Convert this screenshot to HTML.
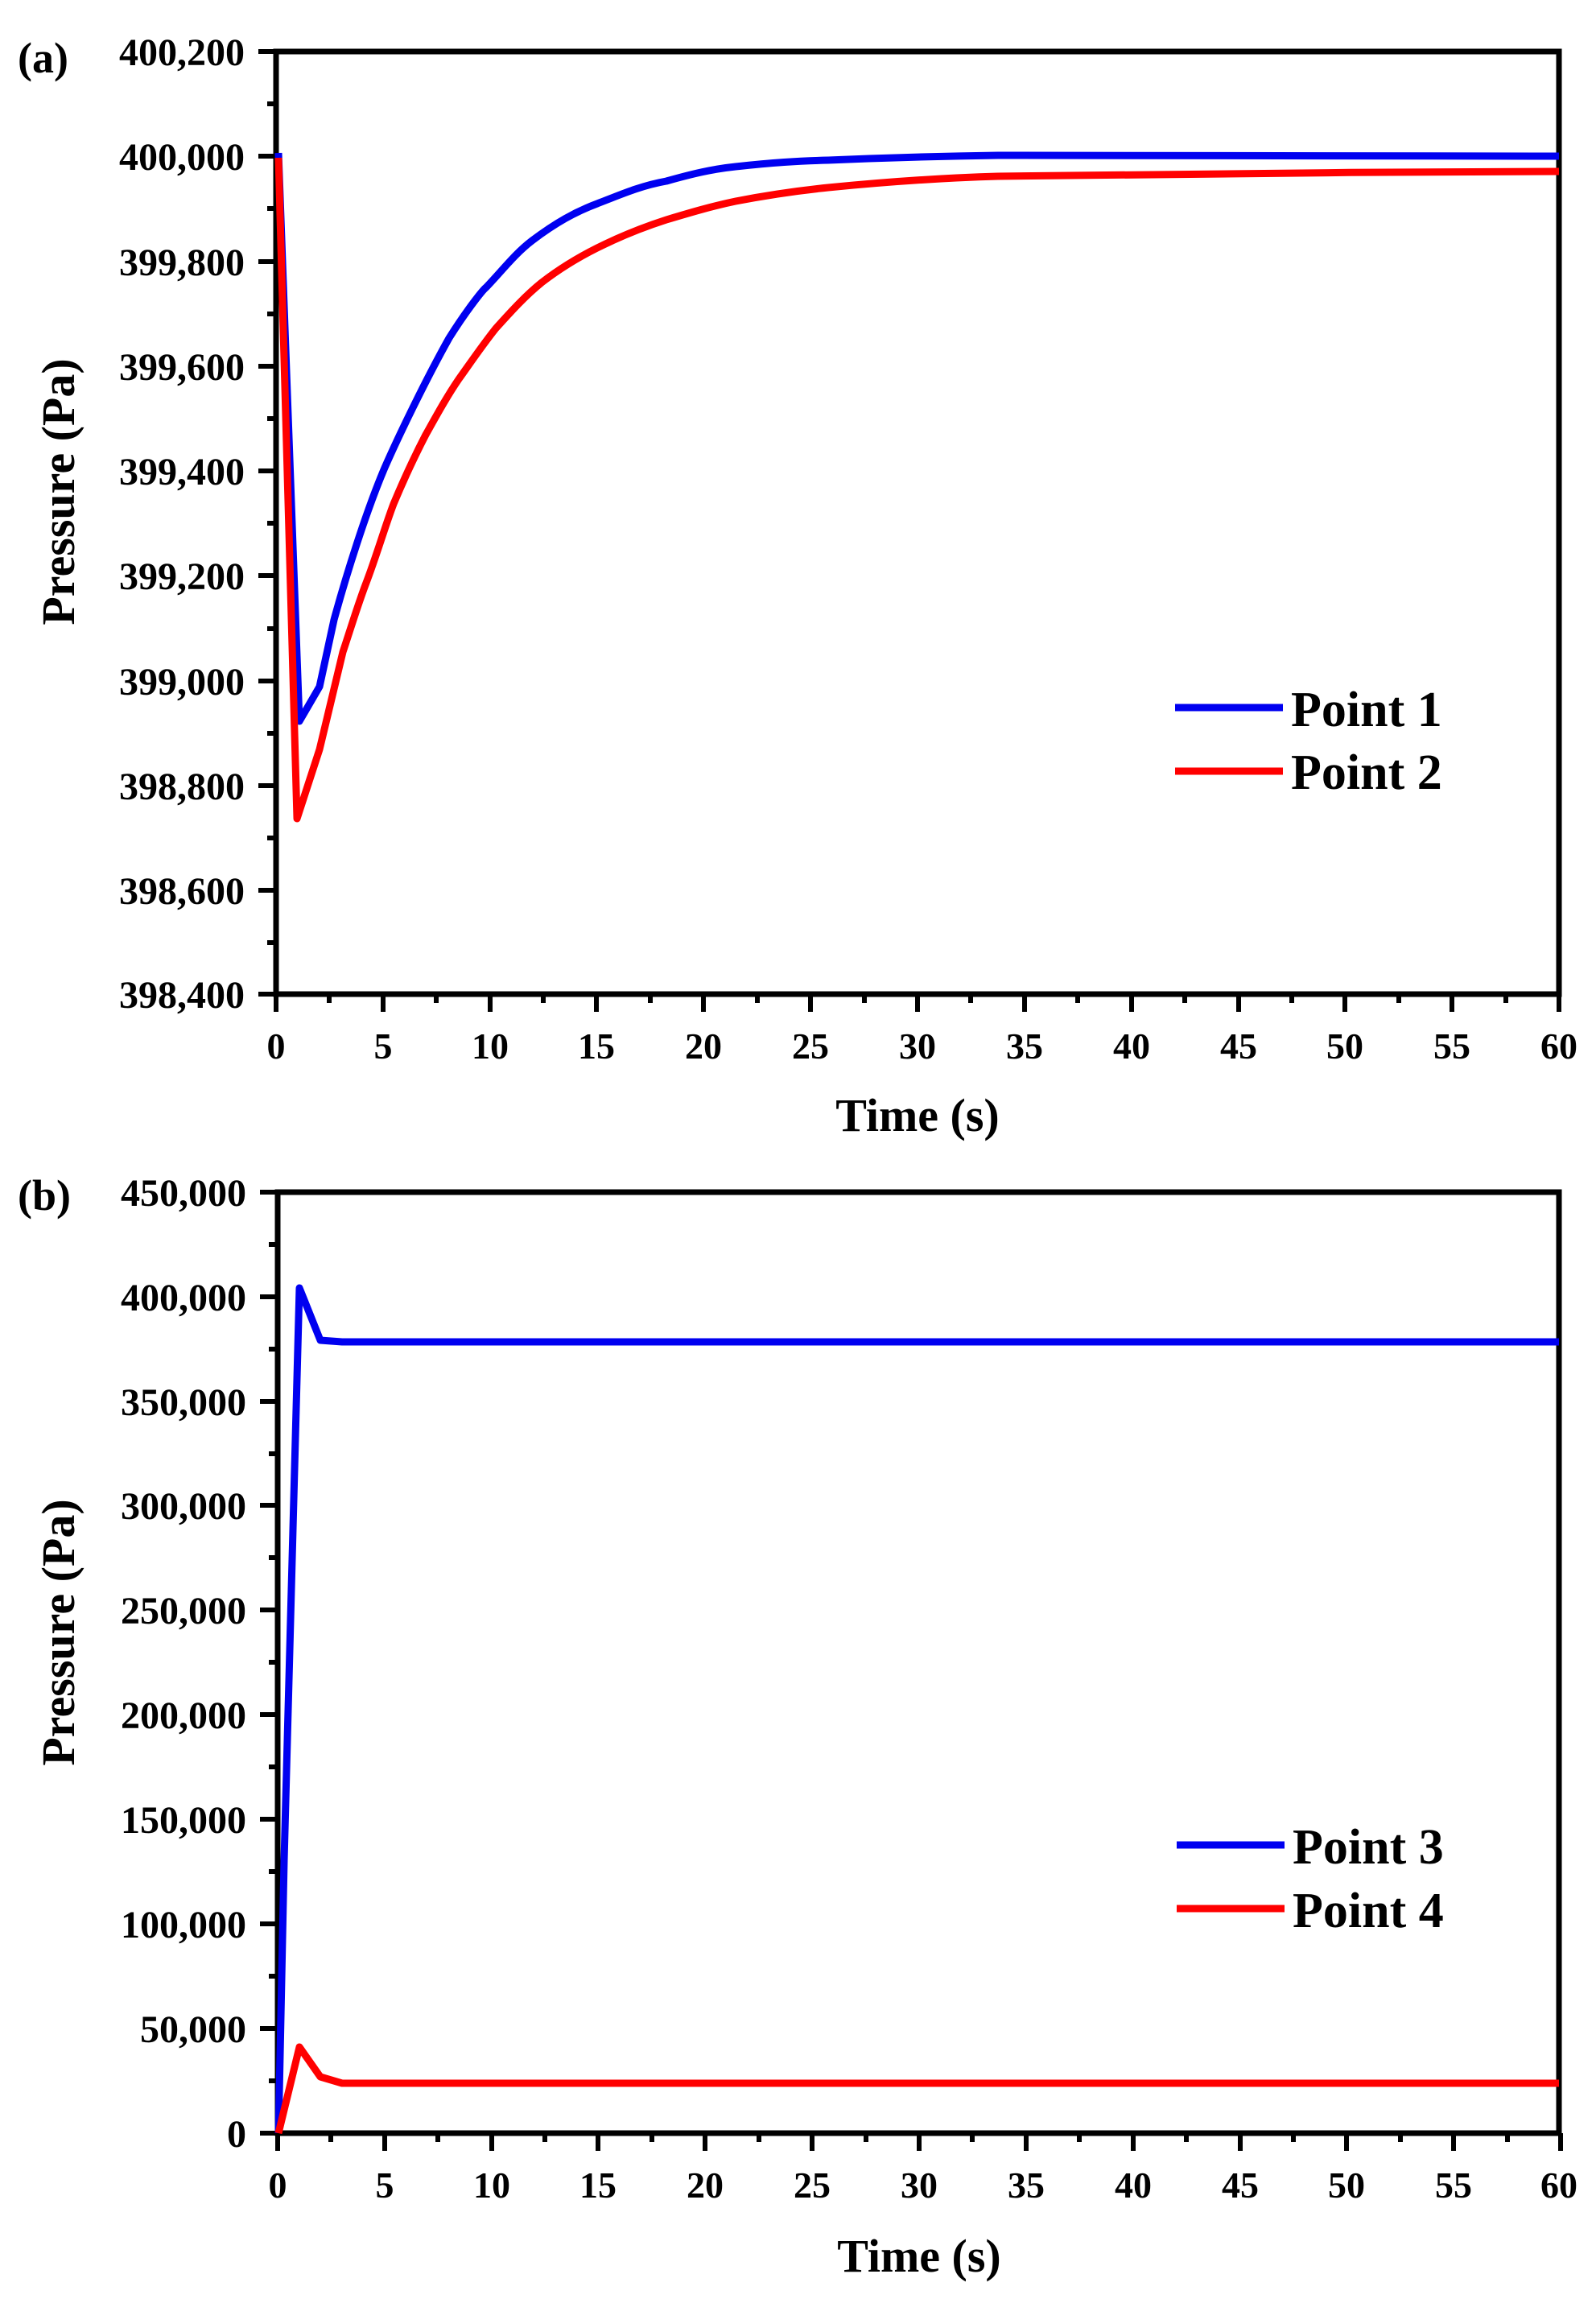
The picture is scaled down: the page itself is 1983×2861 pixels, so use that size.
<!DOCTYPE html>
<html><head><meta charset="utf-8"><style>
html,body{margin:0;padding:0;background:#fff;}
svg{display:block;}
text{font-family:"Liberation Serif",serif;font-weight:bold;fill:#000;}
</style></head><body>
<svg width="1983" height="2861" viewBox="0 0 1983 2861" xmlns="http://www.w3.org/2000/svg">
<!-- Panel a -->
<text x="22" y="90" font-size="54">(a)</text>
<rect x="343" y="64" width="1594" height="1171" stroke="#000" stroke-width="7" fill="none"/>
<g stroke="#000" stroke-width="6">
<line x1="321" y1="64" x2="343" y2="64"/><line x1="321" y1="194" x2="343" y2="194"/><line x1="321" y1="325" x2="343" y2="325"/><line x1="321" y1="455" x2="343" y2="455"/><line x1="321" y1="585" x2="343" y2="585"/><line x1="321" y1="715" x2="343" y2="715"/><line x1="321" y1="846" x2="343" y2="846"/><line x1="321" y1="976" x2="343" y2="976"/><line x1="321" y1="1106" x2="343" y2="1106"/><line x1="321" y1="1235" x2="343" y2="1235"/>
<line x1="332" y1="129" x2="343" y2="129"/><line x1="332" y1="259" x2="343" y2="259"/><line x1="332" y1="390" x2="343" y2="390"/><line x1="332" y1="520" x2="343" y2="520"/><line x1="332" y1="650" x2="343" y2="650"/><line x1="332" y1="781" x2="343" y2="781"/><line x1="332" y1="911" x2="343" y2="911"/><line x1="332" y1="1041" x2="343" y2="1041"/><line x1="332" y1="1171" x2="343" y2="1171"/>
</g>
<g stroke="#000" stroke-width="6" id="xt">
<line x1="343" y1="1235" x2="343" y2="1257"/><line x1="476" y1="1235" x2="476" y2="1257"/><line x1="609" y1="1235" x2="609" y2="1257"/><line x1="741" y1="1235" x2="741" y2="1257"/><line x1="874" y1="1235" x2="874" y2="1257"/><line x1="1007" y1="1235" x2="1007" y2="1257"/><line x1="1140" y1="1235" x2="1140" y2="1257"/><line x1="1273" y1="1235" x2="1273" y2="1257"/><line x1="1406" y1="1235" x2="1406" y2="1257"/><line x1="1539" y1="1235" x2="1539" y2="1257"/><line x1="1671" y1="1235" x2="1671" y2="1257"/><line x1="1804" y1="1235" x2="1804" y2="1257"/><line x1="1937" y1="1235" x2="1937" y2="1257"/>
<line x1="409" y1="1235" x2="409" y2="1246"/><line x1="542" y1="1235" x2="542" y2="1246"/><line x1="675" y1="1235" x2="675" y2="1246"/><line x1="808" y1="1235" x2="808" y2="1246"/><line x1="941" y1="1235" x2="941" y2="1246"/><line x1="1074" y1="1235" x2="1074" y2="1246"/><line x1="1206" y1="1235" x2="1206" y2="1246"/><line x1="1339" y1="1235" x2="1339" y2="1246"/><line x1="1472" y1="1235" x2="1472" y2="1246"/><line x1="1605" y1="1235" x2="1605" y2="1246"/><line x1="1738" y1="1235" x2="1738" y2="1246"/><line x1="1871" y1="1235" x2="1871" y2="1246"/>
</g>
<g font-size="48" text-anchor="end">
<text x="304" y="81">400,200</text><text x="304" y="211">400,000</text><text x="304" y="342">399,800</text><text x="304" y="472">399,600</text><text x="304" y="602">399,400</text><text x="304" y="732">399,200</text><text x="304" y="863">399,000</text><text x="304" y="993">398,800</text><text x="304" y="1123">398,600</text><text x="304" y="1252">398,400</text>
</g>
<g font-size="46" text-anchor="middle">
<text x="343" y="1315">0</text><text x="476" y="1315">5</text><text x="609" y="1315">10</text><text x="741" y="1315">15</text><text x="874" y="1315">20</text><text x="1007" y="1315">25</text><text x="1140" y="1315">30</text><text x="1273" y="1315">35</text><text x="1406" y="1315">40</text><text x="1539" y="1315">45</text><text x="1671" y="1315">50</text><text x="1804" y="1315">55</text><text x="1937" y="1315">60</text>
</g>
<text x="1140" y="1405" font-size="58" text-anchor="middle">Time (s)</text>
<text transform="translate(92,611) rotate(-90)" font-size="58" text-anchor="middle">Pressure (Pa)</text>
<path fill="none" stroke="#0000f0" stroke-width="9" stroke-linejoin="round" d="M346,190 L372,896 L397,853 L415,770 C430,715 455,635 478,581 C496,540 530,470 558,420 C580,385 600,360 604,357 C625,335 640,315 661,299 C690,277 715,263 742,253 C780,238 800,230 828,225 C860,216 885,210 914,207 C960,202 990,200 1029,199 C1100,196 1170,194 1240,193 L1937,194"/>
<path fill="none" stroke="#ff0000" stroke-width="9" stroke-linejoin="round" d="M346,196 L369,1017 L397,931 L426,810 C436,780 445,750 455,724 C468,690 478,655 489,626 C502,595 515,567 529,540 C543,515 555,493 570,471 C585,450 600,428 616,408 C635,387 652,368 673,351 C695,334 718,320 742,308 C770,294 800,282 828,273 C858,264 885,256 914,250 C955,242 990,237 1029,233 C1100,226 1170,221 1240,219 C1500,215 1700,214 1937,213"/>
<line x1="1460" y1="879" x2="1594" y2="879" stroke="#0000f0" stroke-width="9"/>
<line x1="1460" y1="958" x2="1594" y2="958" stroke="#ff0000" stroke-width="9"/>
<text x="1604" y="902" font-size="62">Point 1</text>
<text x="1604" y="980" font-size="62">Point 2</text>

<!-- Panel b -->
<text x="22" y="1503" font-size="54">(b)</text>
<rect x="345" y="1481" width="1592" height="1169" stroke="#000" stroke-width="7" fill="none"/>
<g stroke="#000" stroke-width="6">
<line x1="323" y1="1481" x2="345" y2="1481"/><line x1="323" y1="1611" x2="345" y2="1611"/><line x1="323" y1="1741" x2="345" y2="1741"/><line x1="323" y1="1870" x2="345" y2="1870"/><line x1="323" y1="2000" x2="345" y2="2000"/><line x1="323" y1="2130" x2="345" y2="2130"/><line x1="323" y1="2260" x2="345" y2="2260"/><line x1="323" y1="2390" x2="345" y2="2390"/><line x1="323" y1="2520" x2="345" y2="2520"/><line x1="323" y1="2650" x2="345" y2="2650"/>
<line x1="334" y1="1546" x2="345" y2="1546"/><line x1="334" y1="1676" x2="345" y2="1676"/><line x1="334" y1="1806" x2="345" y2="1806"/><line x1="334" y1="1935" x2="345" y2="1935"/><line x1="334" y1="2065" x2="345" y2="2065"/><line x1="334" y1="2195" x2="345" y2="2195"/><line x1="334" y1="2325" x2="345" y2="2325"/><line x1="334" y1="2455" x2="345" y2="2455"/><line x1="334" y1="2585" x2="345" y2="2585"/>
</g>
<g transform="translate(2,1415)"><use href="#xt"/></g>
<g font-size="48" text-anchor="end">
<text x="306" y="1498">450,000</text><text x="306" y="1628">400,000</text><text x="306" y="1758">350,000</text><text x="306" y="1887">300,000</text><text x="306" y="2017">250,000</text><text x="306" y="2147">200,000</text><text x="306" y="2277">150,000</text><text x="306" y="2407">100,000</text><text x="306" y="2537">50,000</text><text x="306" y="2667">0</text>
</g>
<g font-size="46" text-anchor="middle">
<text x="345" y="2730">0</text><text x="478" y="2730">5</text><text x="611" y="2730">10</text><text x="743" y="2730">15</text><text x="876" y="2730">20</text><text x="1009" y="2730">25</text><text x="1142" y="2730">30</text><text x="1275" y="2730">35</text><text x="1408" y="2730">40</text><text x="1541" y="2730">45</text><text x="1673" y="2730">50</text><text x="1806" y="2730">55</text><text x="1937" y="2730">60</text>
</g>
<text x="1142" y="2822" font-size="58" text-anchor="middle">Time (s)</text>
<text transform="translate(92,2028) rotate(-90)" font-size="58" text-anchor="middle">Pressure (Pa)</text>
<polyline fill="none" stroke="#0000f0" stroke-width="9" stroke-linejoin="round" points="346,2650 353,2312 372,1600 398,1665 425,1667 1937,1667"/>
<polyline fill="none" stroke="#ff0000" stroke-width="9" stroke-linejoin="round" points="346,2650 372,2543 398,2580 425,2588 1937,2588"/>
<line x1="1462" y1="2292" x2="1596" y2="2292" stroke="#0000f0" stroke-width="9"/>
<line x1="1462" y1="2371" x2="1596" y2="2371" stroke="#ff0000" stroke-width="9"/>
<text x="1606" y="2315" font-size="62">Point 3</text>
<text x="1606" y="2394" font-size="62">Point 4</text>
</svg>
</body></html>
